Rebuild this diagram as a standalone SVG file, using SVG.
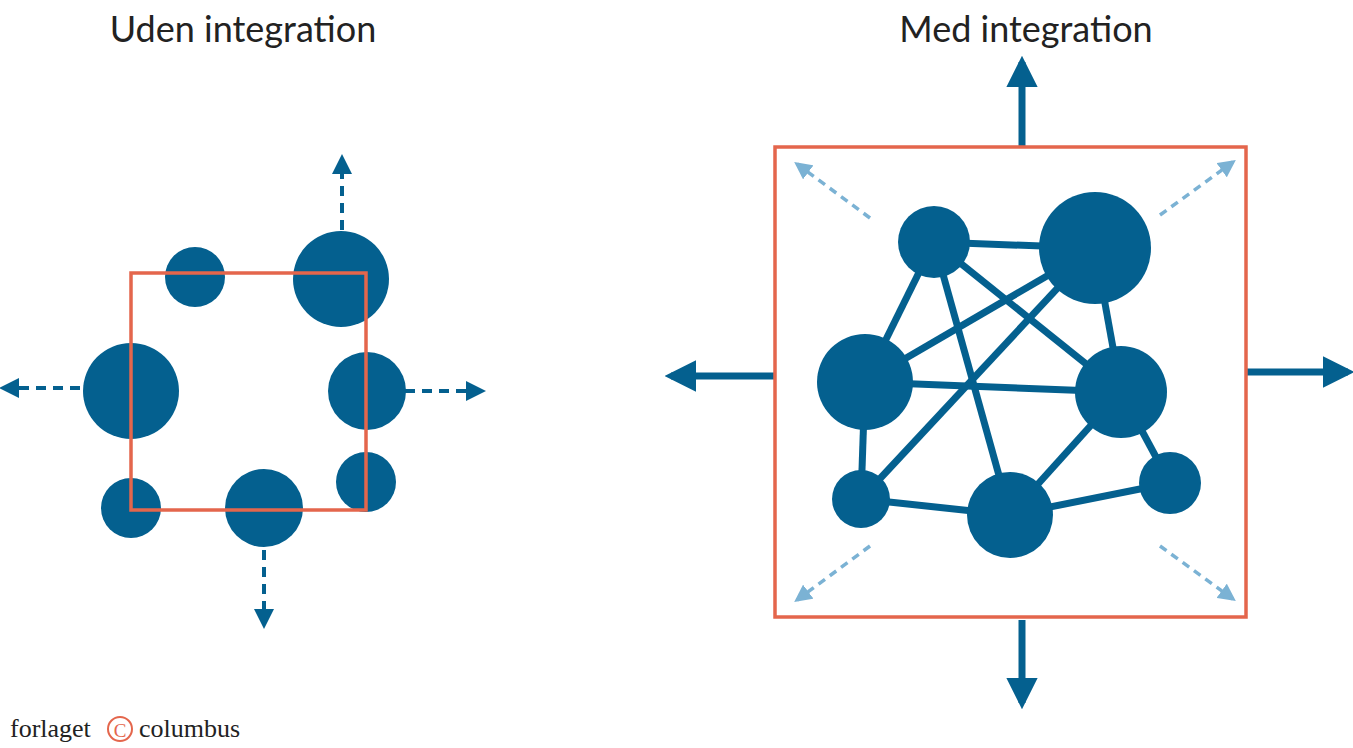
<svg xmlns="http://www.w3.org/2000/svg" width="1353" height="748" viewBox="0 0 1353 748">
<defs>
<style>
.n{fill:#04608f}
.box{fill:none;stroke:#e4664c;stroke-width:3.5}
.d{stroke:#04608f;stroke-width:4;stroke-dasharray:10 7;fill:none}
.l{stroke:#7bb2d4;stroke-width:3.5;stroke-dasharray:8 6;fill:none}
.t{stroke:#04608f;stroke-width:7;fill:none}
.e{stroke:#04608f;stroke-width:7}
.title{font-family:Lato,"Open Sans",sans-serif;font-size:36px;fill:#222;text-anchor:middle}
</style>
<marker id="ad" viewBox="0 0 10 10" refX="8" refY="5" markerWidth="5" markerHeight="5" orient="auto" markerUnits="strokeWidth"><path d="M0,0L10,5L0,10z" fill="#04608f"/></marker>
<marker id="al" viewBox="0 0 10 10" refX="8" refY="5" markerWidth="5" markerHeight="5" orient="auto" markerUnits="strokeWidth"><path d="M0,0L10,5L0,10z" fill="#7bb2d4"/></marker>
<marker id="at" viewBox="0 0 10 10" refX="8" refY="5" markerWidth="4.5" markerHeight="4.5" orient="auto" markerUnits="strokeWidth"><path d="M0,0L10,5L0,10z" fill="#04608f"/></marker>
</defs>
<text class="title" x="243" y="42">Uden integration</text>
<text class="title" x="1026" y="42">Med integration</text>
<g id="connectors">
<path class="d" d="M342,230V158" marker-end="url(#ad)"/>
<path class="d" d="M80,388H3" marker-end="url(#ad)"/>
<path class="d" d="M405,391H482" marker-end="url(#ad)"/>
<path class="d" d="M264,550V625" marker-end="url(#ad)"/>
<path class="t" d="M1022,148V62" marker-end="url(#at)"/>
<path class="t" d="M775,376H671" marker-end="url(#at)"/>
<path class="t" d="M1246,372H1348" marker-end="url(#at)"/>
<path class="t" d="M1022,620V703" marker-end="url(#at)"/>
<path class="l" d="M870,218L797,164" marker-end="url(#al)"/>
<path class="l" d="M1160,215L1233,162" marker-end="url(#al)"/>
<path class="l" d="M870,546L797,600" marker-end="url(#al)"/>
<path class="l" d="M1160,546L1233,599" marker-end="url(#al)"/>
<g class="e">
<line x1="934" y1="242" x2="1095" y2="248"/>
<line x1="934" y1="242" x2="865" y2="382"/>
<line x1="934" y1="242" x2="1121" y2="392"/>
<line x1="934" y1="242" x2="1010" y2="515"/>
<line x1="1095" y1="248" x2="865" y2="382"/>
<line x1="1095" y1="248" x2="861" y2="499"/>
<line x1="1095" y1="248" x2="1121" y2="392"/>
<line x1="865" y1="382" x2="1121" y2="392"/>
<line x1="865" y1="382" x2="861" y2="499"/>
<line x1="861" y1="499" x2="1010" y2="515"/>
<line x1="1010" y1="515" x2="1121" y2="392"/>
<line x1="1010" y1="515" x2="1170" y2="483"/>
<line x1="1121" y1="392" x2="1170" y2="483"/>
</g>
</g>
<g id="left-nodes">
<circle id="l1" class="n" cx="195" cy="277" r="30"/>
<circle id="l2" class="n" cx="341" cy="279" r="48"/>
<circle id="l3" class="n" cx="131" cy="391" r="48"/>
<circle id="l4" class="n" cx="367" cy="391" r="39"/>
<circle id="l5" class="n" cx="366" cy="482" r="30"/>
<circle id="l6" class="n" cx="131" cy="508" r="30"/>
<circle id="l7" class="n" cx="264" cy="508" r="39"/>
</g>
<rect id="left-box" class="box" x="131" y="273" width="235" height="237"/>
<rect id="right-box" class="box" x="775" y="147" width="471" height="470"/>
<g id="right-nodes">
<circle id="r1" class="n" cx="934" cy="242" r="36"/>
<circle id="r2" class="n" cx="1095" cy="248" r="56"/>
<circle id="r3" class="n" cx="865" cy="382" r="48"/>
<circle id="r4" class="n" cx="1121" cy="392" r="46"/>
<circle id="r5" class="n" cx="861" cy="499" r="29"/>
<circle id="r6" class="n" cx="1010" cy="515" r="43"/>
<circle id="r7" class="n" cx="1170" cy="483" r="31"/>
</g>
<g id="logo" font-family="Liberation Serif,serif" font-size="26" fill="#222">
<text x="10" y="737">forlaget</text>
<circle cx="120" cy="729" r="12" fill="none" stroke="#e4664c" stroke-width="2"/>
<text x="120" y="737" font-size="19" fill="#e4664c" text-anchor="middle">C</text>
<text x="139" y="737">columbus</text>
</g>
</svg>
